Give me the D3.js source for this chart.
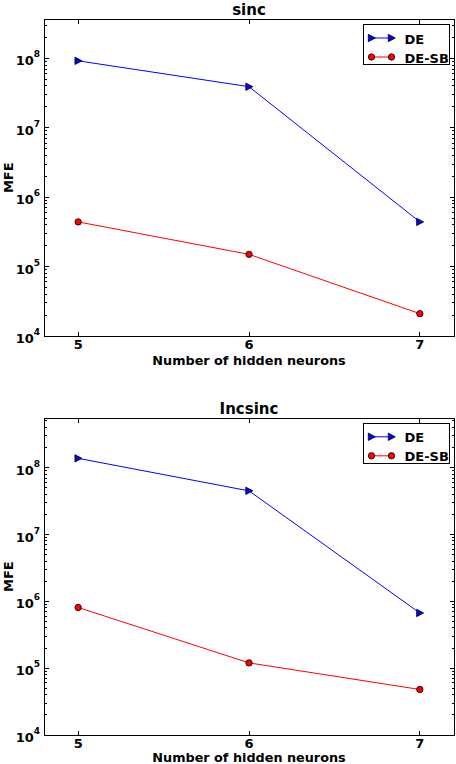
<!DOCTYPE html>
<html>
<head>
<meta charset="utf-8">
<script src="https://cdn.jsdelivr.net/npm/d3@7"></script>
<style>
  html, body { margin: 0; padding: 0; background: #fff; }
  svg { display: block; }
  text { font-family: "DejaVu Sans", sans-serif; fill: #000; }
</style>
</head>
<body>
<script>
// ---- data ----
const categories = [5, 6, 7];
const seriesNames = ["DE", "DE-SB"];
const panelTitles = ["sinc", "Incsinc"];
const sincDE = [9.2e7, 3.9e7, 4.4e5];
const sincDESB = [4.4e5, 1.5e5, 2.1e4];
const incsincDE = [1.38e8, 4.5e7, 6.7e5];
const incsincDESB = [8.1e5, 1.2e5, 4.8e4];
const yTickExponents = [4, 5, 6, 7, 8];
const xLabel = "Number of hidden neurons";
const yLabel = "MFE";

const W = 456, H = 764;
const svg = d3.select("body").append("svg").attr("width", W).attr("height", H);

function panel(top, bottom, yMaxExp, title, de, desb, xLabOff) {
  const left = 44, right = 454;
  const g = svg.append("g");
  const x = d3.scaleLinear().domain([4.8, 7.2]).range([left, right]);
  const y = d3.scaleLog().domain([1e4, Math.pow(10, yMaxExp)]).range([bottom, top]);

  // minor ticks (log)
  const minor = [];
  for (let e = 4; e <= 8; e++) for (let m = 2; m <= 9; m++) {
    const v = m * Math.pow(10, e);
    if (v <= y.domain()[1]) minor.push(v);
  }
  const tickG = g.append("g").attr("stroke", "#000").attr("stroke-width", 1).attr("shape-rendering", "crispEdges");
  minor.forEach(v => {
    const yy = y(v);
    tickG.append("line").attr("x1", left).attr("x2", left + 2.5).attr("y1", yy).attr("y2", yy);
    tickG.append("line").attr("x1", right - 2.5).attr("x2", right).attr("y1", yy).attr("y2", yy);
  });
  yTickExponents.forEach(e => {
    const yy = y(Math.pow(10, e));
    tickG.append("line").attr("x1", left).attr("x2", left + 4.5).attr("y1", yy).attr("y2", yy);
    tickG.append("line").attr("x1", right - 4.5).attr("x2", right).attr("y1", yy).attr("y2", yy);
  });
  categories.forEach(c => {
    const xx = x(c);
    tickG.append("line").attr("x1", xx).attr("x2", xx).attr("y1", top).attr("y2", top + 4.5);
    tickG.append("line").attr("x1", xx).attr("x2", xx).attr("y1", bottom - 4.5).attr("y2", bottom);
  });

  // y tick labels
  yTickExponents.forEach(e => {
    const yy = y(Math.pow(10, e));
    const t = g.append("text").attr("x", left - 4).attr("y", yy + 7)
      .attr("text-anchor", "end").style("font-weight", "bold");
    t.append("tspan").attr("font-size", 13).text("10");
    t.append("tspan").attr("font-size", 9).attr("dy", -8).text(String(e));
  });
  // x tick labels
  categories.forEach(c => {
    g.append("text").attr("x", x(c)).attr("y", bottom + 12.5).attr("text-anchor", "middle")
      .attr("font-size", 13).style("font-weight", "bold").text(String(c));
  });

  // axis labels + title
  g.append("text").attr("x", (left + right) / 2).attr("y", bottom + xLabOff)
    .attr("text-anchor", "middle").attr("font-size", 12.8).style("font-weight", "bold").text(xLabel);
  g.append("text").attr("transform", `translate(13,${(top + bottom) / 2}) rotate(-90)`)
    .attr("text-anchor", "middle").attr("font-size", 13).style("font-weight", "bold").text(yLabel);
  g.append("text").attr("x", (left + right) / 2).attr("y", top - 4.5)
    .attr("text-anchor", "middle").attr("font-size", 15).style("font-weight", "bold").text(title);

  // lines
  const line = d3.line().x((d, i) => x(categories[i])).y(d => y(d));
  g.append("path").datum(de).attr("d", line).attr("fill", "none").attr("stroke", "#0000ff").attr("stroke-width", 1);
  g.append("path").datum(desb).attr("d", line).attr("fill", "none").attr("stroke", "#ff0000").attr("stroke-width", 1);

  const tri = "M-3.2,-3.7 L3.8,0 L-3.2,3.7 Z";
  g.selectAll(".tri").data(de).join("path").attr("class", "tri")
    .attr("d", tri).attr("transform", (d, i) => `translate(${x(categories[i])},${y(d)})`)
    .attr("fill", "#0000ff").attr("stroke", "#000").attr("stroke-width", 0.8);
  g.selectAll(".circ").data(desb).join("circle").attr("class", "circ")
    .attr("cx", (d, i) => x(categories[i])).attr("cy", d => y(d)).attr("r", 3.2)
    .attr("fill", "#ff0000").attr("stroke", "#000").attr("stroke-width", 0.8);

  // frame
  g.append("rect").attr("x", left).attr("y", top).attr("width", right - left).attr("height", bottom - top)
    .attr("fill", "none").attr("stroke", "#000").attr("stroke-width", 1).attr("shape-rendering", "crispEdges");

  // legend
  const lx = right - 90.5, ly = top + 5;
  const lg = g.append("g");
  lg.append("rect").attr("x", lx).attr("y", ly).attr("width", 85.5).attr("height", 40)
    .attr("fill", "#fff").attr("stroke", "#000").attr("stroke-width", 1).attr("shape-rendering", "crispEdges");
  const colors = ["#0000ff", "#ff0000"];
  seriesNames.forEach((name, i) => {
    const yy = ly + 13.5 + i * 19;
    lg.append("line").attr("x1", lx + 8).attr("x2", lx + 28).attr("y1", yy).attr("y2", yy)
      .attr("stroke", colors[i]).attr("stroke-width", 1);
    [lx + 8, lx + 28].forEach(mx => {
      if (i === 0) {
        lg.append("path").attr("d", tri).attr("transform", `translate(${mx},${yy})`)
          .attr("fill", colors[i]).attr("stroke", "#000").attr("stroke-width", 0.8);
      } else {
        lg.append("circle").attr("cx", mx).attr("cy", yy).attr("r", 3.2)
          .attr("fill", colors[i]).attr("stroke", "#000").attr("stroke-width", 0.8);
      }
    });
    lg.append("text").attr("x", lx + 41).attr("y", yy + 5.5).attr("font-size", 13)
      .style("font-weight", "bold").text(name);
  });
}

panel(19.5, 336, 8.559, panelTitles[0], sincDE, sincDESB, 28.5);
panel(418.3, 735, 8.739, panelTitles[1], incsincDE, incsincDESB, 26.5);
</script>
</body>
</html>
